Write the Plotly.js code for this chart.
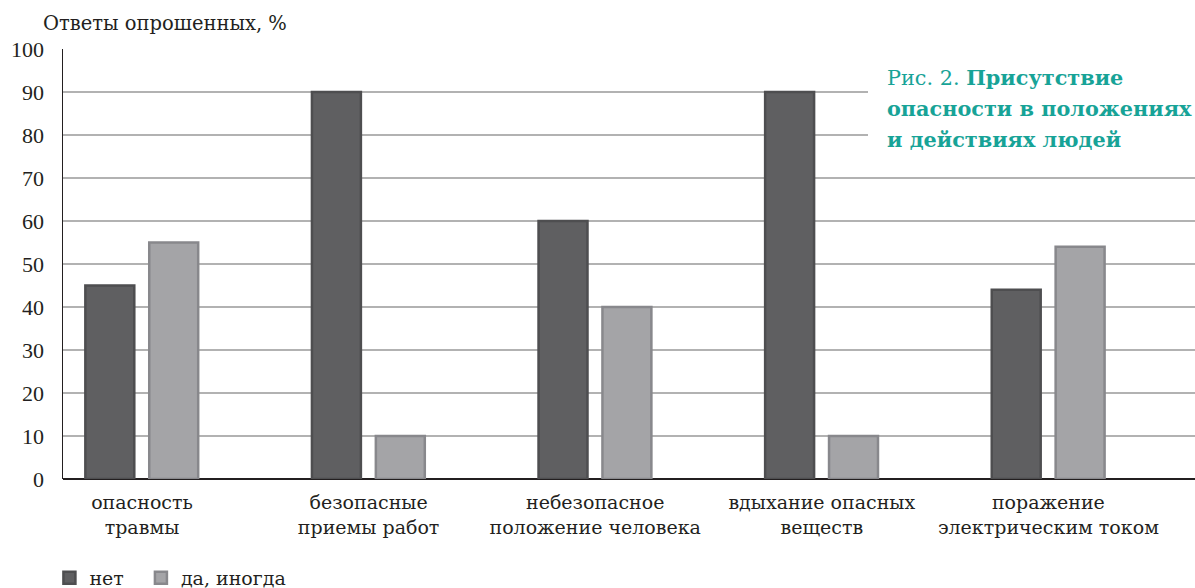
<!DOCTYPE html>
<html>
<head>
<meta charset="utf-8">
<script src="https://cdn.plot.ly/plotly-3.0.1.min.js"></script>
<style>
  html, body { margin: 0; padding: 0; background: #ffffff; }
  #chart { width: 1195px; height: 588px; }
</style>
</head>
<body>
<div id="chart"></div>
<script>
// Категории (подписи оси X)
const categories = [
  'опасность<br>травмы',
  'безопасные<br>приемы работ',
  'небезопасное<br>положение человека',
  'вдыхание опасных<br>веществ',
  'поражение<br>электрическим током'
];

// Ответы опрошенных, %
const seriesNo = [45, 90, 60, 90, 44];
const seriesSometimes = [55, 10, 40, 10, 54];

const seriesNames = ['нет', 'да, иногда'];

const yTicks = [0, 10, 20, 30, 40, 50, 60, 70, 80, 90, 100];

// Подпись рисунка: первая строка — номер и начало заголовка
const figureLines = [
  'Рис. 2. <b>Присутствие</b>',
  '<b>опасности в положениях</b>',
  '<b>и действиях людей</b>'
];

const serif = 'DejaVu Serif';
const digits = 'Liberation Serif';
const teal = '#17a397';
const ink = '#231f20';
const idx = categories.map((_, i) => i);

const traces = [
  {
    type: 'bar',
    name: seriesNames[0] + '\u00a0\u00a0',
    x: idx,
    y: seriesNo,
    width: 0.216,
    offset: -0.25,
    marker: { color: '#5f5f61', line: { color: '#4e4e50', width: 2.5 } },
    hoverinfo: 'y'
  },
  {
    type: 'bar',
    name: seriesNames[1],
    x: idx,
    y: seriesSometimes,
    width: 0.216,
    offset: 0.032,
    marker: { color: '#a4a4a7', line: { color: '#88888c', width: 2.5 } },
    hoverinfo: 'y'
  }
];

// Подпись рисунка: три строки с заданным межстрочным шагом
const lineCentersPx = [77, 108, 139];
const figureAnnotations = figureLines.map((t, i) => ({
  text: t,
  xref: 'paper', yref: 'paper',
  x: (885 - 63) / 1132, y: (479 - lineCentersPx[i]) / 430,
  xanchor: 'left', yanchor: 'middle',
  align: 'left',
  showarrow: false,
  font: { family: serif, size: 20.8, color: teal }
}));

const layout = {
  width: 1195,
  height: 588,
  margin: { l: 63, r: 0, t: 49, b: 109 },
  paper_bgcolor: '#ffffff',
  plot_bgcolor: '#ffffff',
  font: { family: serif, color: ink, size: 19 },
  barmode: 'overlay',
  showlegend: true,
  legend: {
    orientation: 'h',
    x: -0.012,
    xanchor: 'left',
    y: (588 - 578) / 588,
    yref: 'container',
    yanchor: 'middle',
    font: { family: serif, size: 19, color: ink },
    itemwidth: 30,
    traceorder: 'normal',
    bgcolor: 'rgba(0,0,0,0)'
  },
  xaxis: {
    type: 'linear',
    range: [-0.3486, 4.647],
    tickmode: 'array',
    tickvals: idx,
    ticktext: categories,
    showgrid: false,
    zeroline: false,
    showline: false,
    ticks: 'outside',
    ticklen: 6,
    tickcolor: 'rgba(0,0,0,0)',
    tickfont: { family: serif, size: 19, color: ink },
    fixedrange: true
  },
  yaxis: {
    range: [0, 100],
    tickmode: 'array',
    tickvals: yTicks,
    showgrid: true,
    gridcolor: '#b2b2b2',
    gridwidth: 2,
    zeroline: true,
    zerolinecolor: ink,
    zerolinewidth: 1.5,
    showline: true,
    linecolor: ink,
    linewidth: 1.5,
    ticks: '',
    ticklabelstandoff: 13,
    tickfont: { family: digits, size: 22, color: ink },
    fixedrange: true
  },
  shapes: [
    {
      type: 'rect', layer: 'above',
      xref: 'paper', yref: 'paper',
      x0: (868 - 63) / 1132, x1: 1,
      y0: (479 - 162) / 430, y1: (479 - 58) / 430,
      fillcolor: '#ffffff', line: { width: 0 }
    }
  ],
  annotations: [
    {
      text: 'Ответы опрошенных, %',
      xref: 'paper', yref: 'paper',
      x: -0.019, y: 1.0,
      xanchor: 'left', yanchor: 'bottom',
      yshift: 12,
      showarrow: false,
      font: { family: serif, size: 19.5, color: ink }
    }
  ].concat(figureAnnotations)
};

Plotly.newPlot('chart', traces, layout, { displayModeBar: false, staticPlot: true });
</script>
</body>
</html>
